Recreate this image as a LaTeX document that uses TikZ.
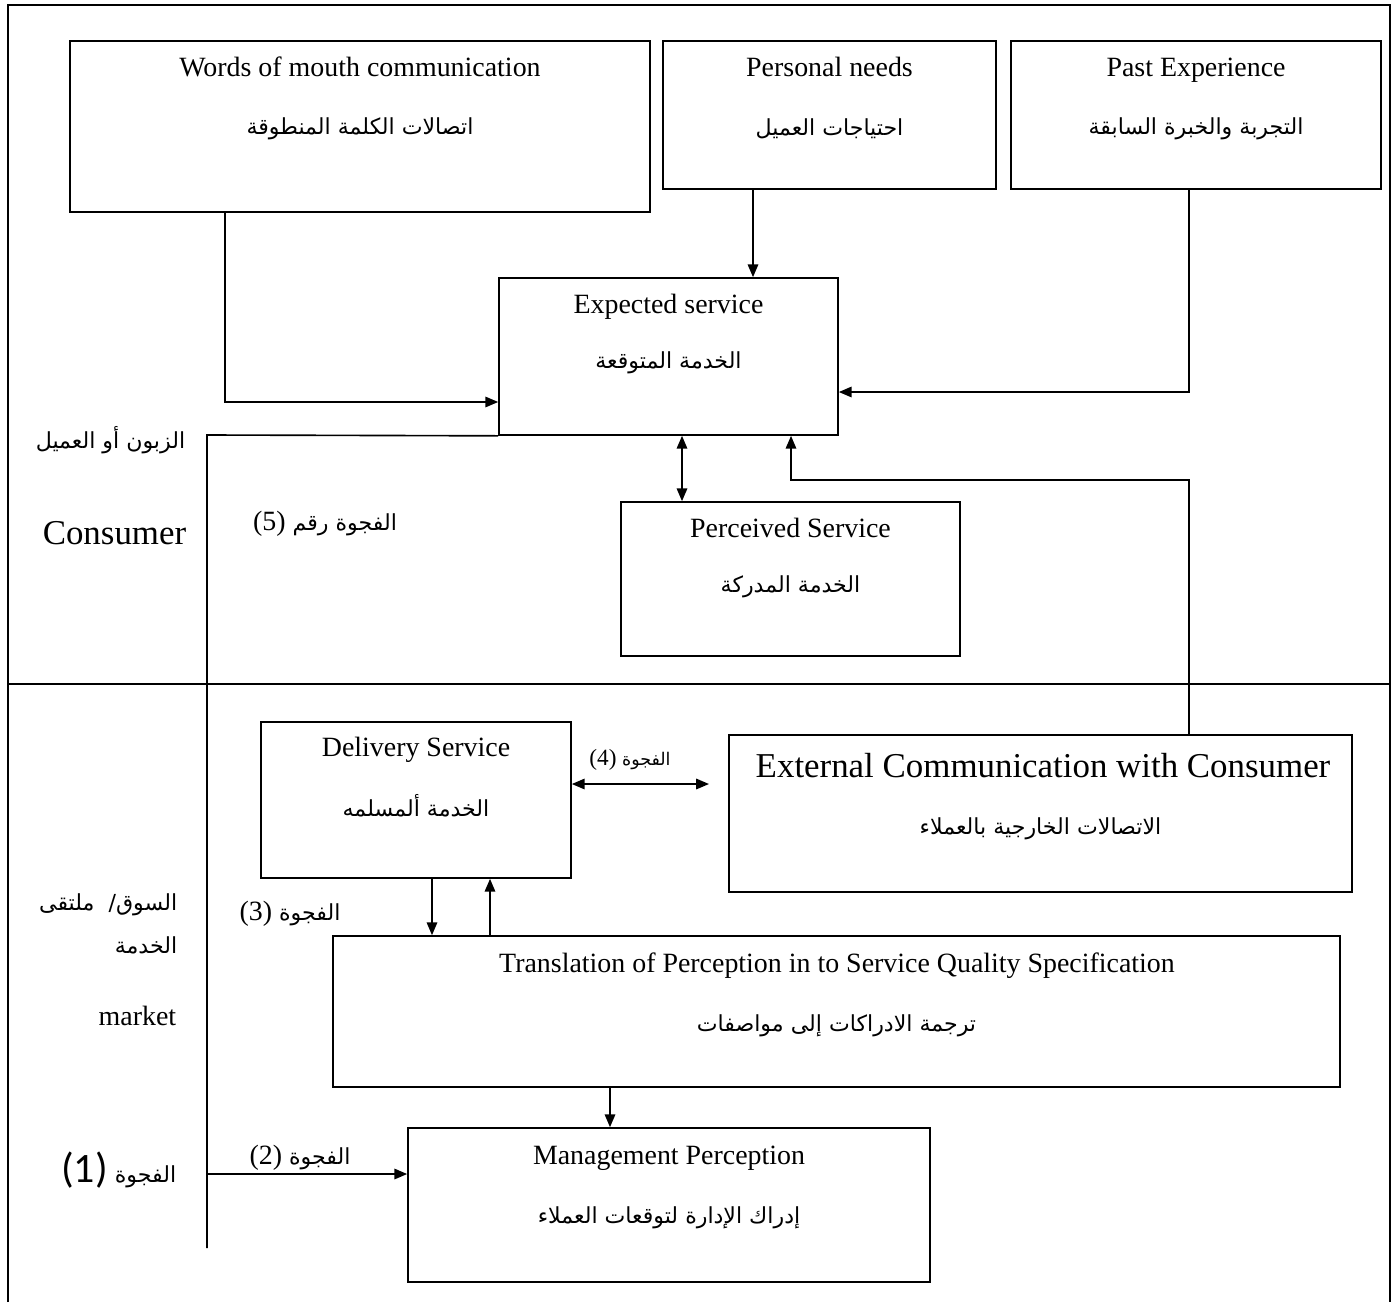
\documentclass[tikz,border=0pt]{standalone}
\usepackage{fontspec}
\setmainfont{Liberation Serif}
\newfontfamily\arabicfont[Script=Arabic]{DejaVu Sans}
\newfontfamily\calfont{Carlito}
\TeXXeTstate=1
\usetikzlibrary{arrows.meta,calc}
\begin{document}
\begin{tikzpicture}[x=0.43pt,y=-0.43pt, line width=0.7pt,
  box/.style 2 args={draw, rectangle, inner sep=0pt, minimum width=#1*0.43pt, minimum height=#2*0.43pt},
  en/.style={inner sep=0pt, text height=8.5pt, text depth=0pt, font=\fontsize{12}{14}\selectfont},
  bigen/.style={inner sep=0pt, text height=10.5pt, text depth=0pt, font=\fontsize{15}{18}\selectfont},
  ar/.style={inner sep=0pt, font=\arabicfont\fontsize{9.5}{12}\selectfont},
  arr/.style={-{Triangle[length=5.5pt,width=4.5pt]}},
  darr/.style={{Triangle[length=5.5pt,width=4.5pt]}-{Triangle[length=5.5pt,width=4.5pt]}}]
\useasboundingbox (0,0) rectangle (1399,1302);
% frame
\draw (8,1302) -- (8,5) -- (1390,5) -- (1390,1302);
\draw (8,684) -- (1390,684);
% boxes
\node[box={580}{171}] (wom) at (360,126.5) {};
\node[box={333}{148}] (pn) at (829.5,115) {};
\node[box={370}{148}] (pe) at (1196,115) {};
\node[box={339}{157}] (exp) at (668.5,356.5) {};
\node[box={339}{154}] (perc) at (790.5,579) {};
\node[box={310}{156}] (del) at (416,800) {};
\node[box={623}{157}] (ext) at (1040.5,813.5) {};
\node[box={1007}{151}] (tr) at (836.5,1011.5) {};
\node[box={522}{154}] (mp) at (669,1205) {};
% box texts
\node[en] (women) at (360,67) {Words of mouth communication};
\node[ar] (womar) at (360,129) {\beginR اتصالات الكلمة المنطوقة\endR};
\node[en] (pnen) at (829.5,67) {Personal needs};
\node[ar] (pnar) at (829.5,129) {\beginR احتياجات العميل\endR};
\node[en] (peen) at (1196,67) {Past Experience};
\node[ar] (pear) at (1196,129) {\beginR التجربة والخبرة السابقة\endR};
\node[en] (expen) at (668.5,304) {Expected service};
\node[ar] (expar) at (668.5,363) {\beginR الخدمة المتوقعة\endR};
\node[en] (percen) at (790.5,528) {Perceived Service};
\node[ar] (percar) at (790.5,587) {\beginR الخدمة المدركة\endR};
\node[en] (delen) at (416,747) {Delivery Service};
\node[ar] (delar) at (416,806) {\beginR الخدمة ألمسلمه\endR};
\node[bigen] (exten) at (1043,765) {External Communication with Consumer};
\node[ar] (extar) at (1040.5,829) {\beginR الاتصالات الخارجية بالعملاء\endR};
\node[en] (tren) at (837,963) {Translation of Perception in to Service Quality Specification};
\node[ar] (trar) at (836.5,1026) {\beginR ترجمة الادراكات إلى مواصفات\endR};
\node[en] (mpen) at (669,1155) {Management Perception};
\node[ar] (mpar) at (669,1218) {\beginR إدراك الإدارة لتوقعات العملاء\endR};
% side labels
\node[ar, anchor=east] (consar) at (186,440) {\beginR الزبون أو العميل\endR};
\node[bigen, anchor=east] (cons) at (187,532) {Consumer};
\node[ar] (gap5) at (325,524) {\beginR الفجوة رقم \beginL{\rmfamily\fontsize{12}{14}\selectfont(5)}\endL\endR};
\node[ar, font=\arabicfont\fontsize{7.5}{9}\selectfont] (gap4) at (630,760) {\beginR الفجوة \beginL{\rmfamily\fontsize{10}{12}\selectfont(4)}\endL\endR};
\node[ar, anchor=east] (mkt1) at (178,905) {\beginR السوق/\ \ ملتقى\endR};
\node[ar, anchor=east] (mkt2) at (178,945) {\beginR الخدمة\endR};
\node[en, anchor=east] (mkt3) at (177,1016) {market};
\node[ar] (gap3) at (290,914) {\beginR الفجوة \beginL{\rmfamily\fontsize{12}{14}\selectfont(3)}\endL\endR};
\node[ar] (gap2) at (300,1158) {\beginR الفجوة \beginL{\rmfamily\fontsize{12}{14}\selectfont(2)}\endL\endR};
\node[ar, anchor=east] (gap1) at (177,1170) {\beginR الفجوة \beginL{\calfont\fontsize{18}{20}\selectfont(1)}\endL\endR};
% connectors
\draw[arr] (wom.south -| 225,0) |- (exp.west |- 0,402);
\draw[arr] (pn.south -| 753,0) -- (exp.north -| 753,0);
\draw[arr] (pe.south -| 1189,0) |- (exp.east |- 0,392);
\draw[darr] (exp.south -| 682,0) -- (perc.north -| 682,0);
\coordinate (bend) at (791,480);
\draw[arr] (ext.north -| 1189,0) |- (bend) -- (exp.south -| 791,0);
\coordinate (g5corner) at (207,435);
\coordinate (g5end) at (207,1248);
\draw (exp.south west) -- (g5corner) -- (g5end);
\coordinate (g2start) at (207,1174);
\draw[arr] (g2start) -- (mp.west |- g2start);
\coordinate (g4end) at (709,784);
\draw[darr] (del.east |- g4end) -- (g4end);
\draw[arr] (del.south -| 432,0) -- (tr.north -| 432,0);
\draw[arr] (tr.north -| 490,0) -- (del.south -| 490,0);
\draw[arr] (tr.south -| 610,0) -- (mp.north -| 610,0);
\end{tikzpicture}
\end{document}
